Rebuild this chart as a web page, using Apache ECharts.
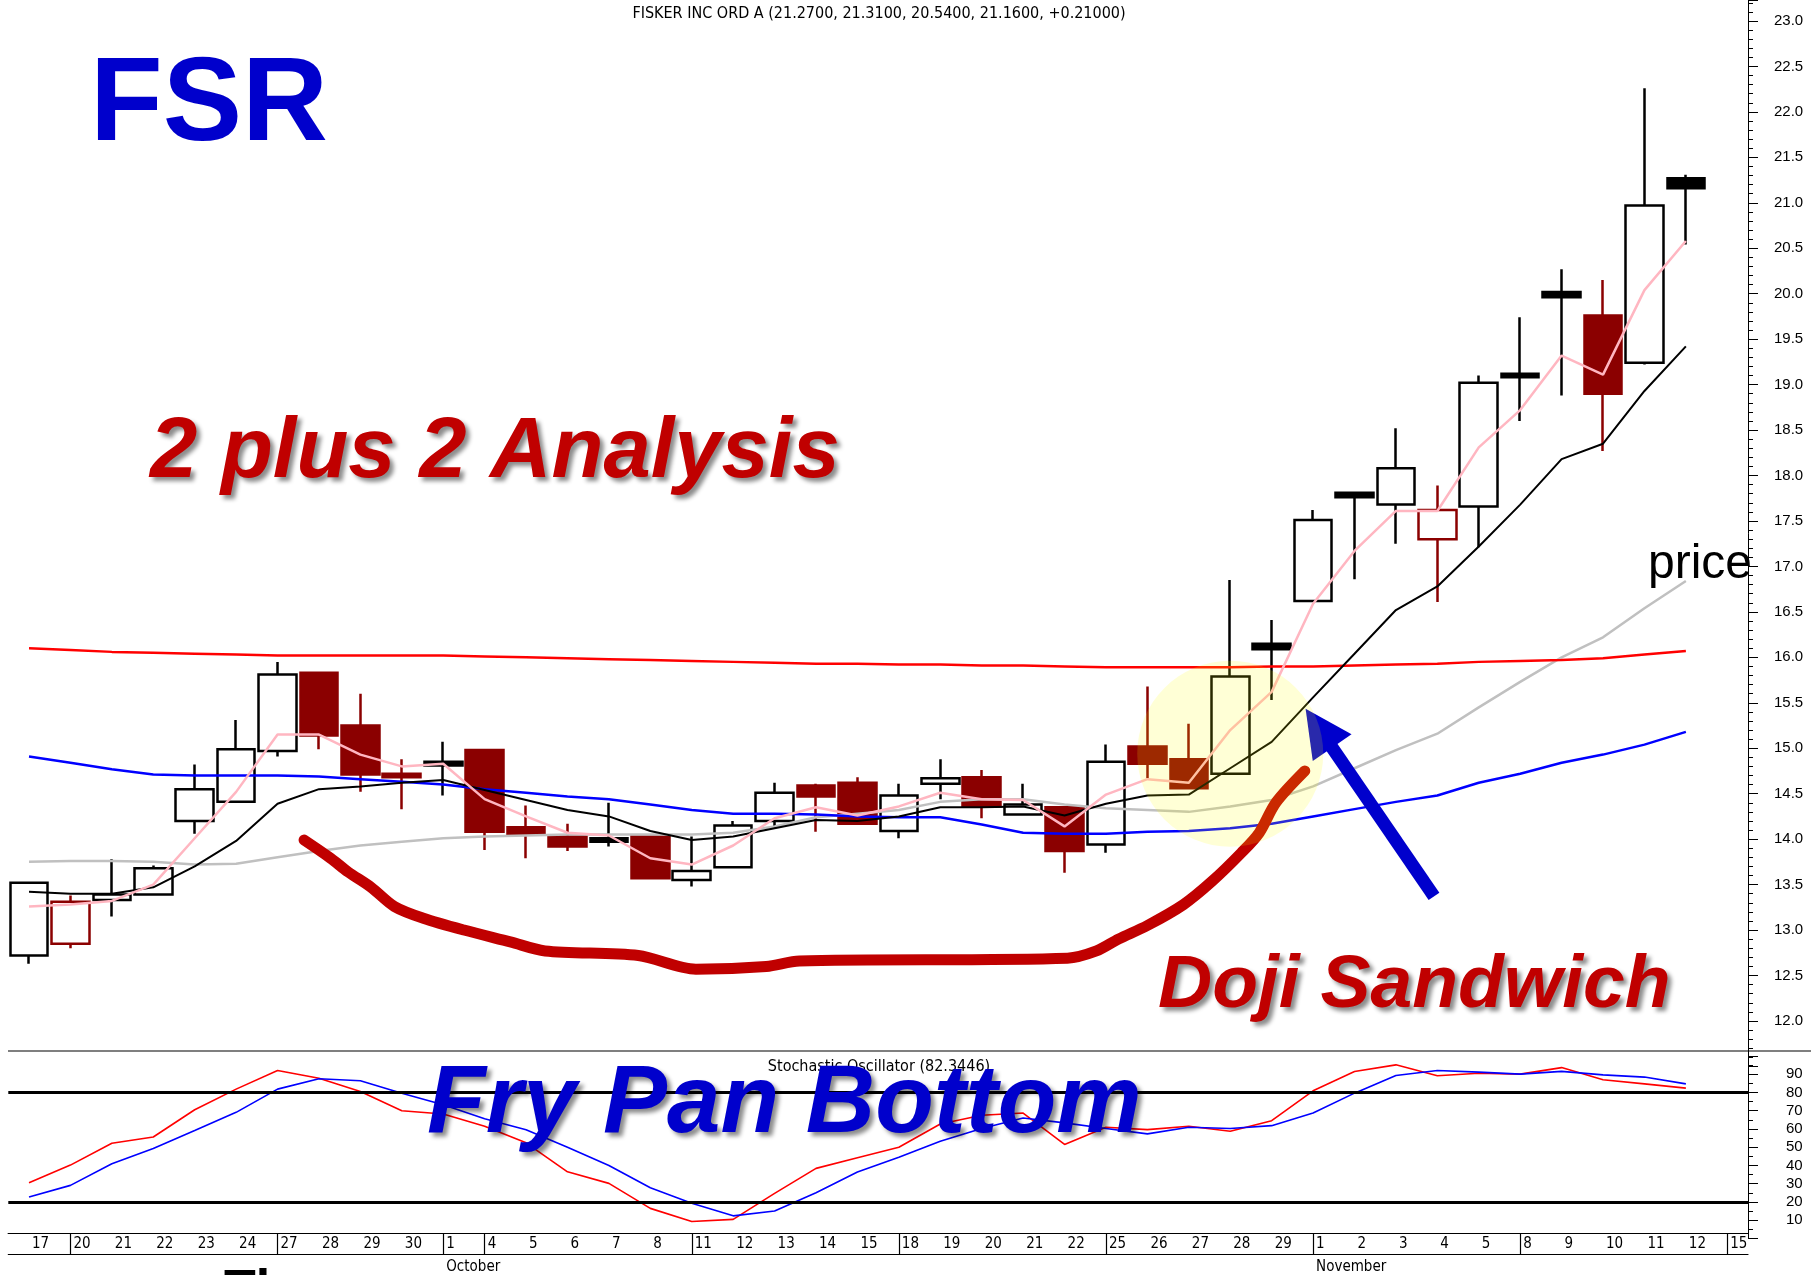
<!DOCTYPE html>
<html>
<head>
<meta charset="utf-8">
<title>FSR - 2 plus 2 Analysis</title>
<script src="https://cdn.jsdelivr.net/npm/echarts@6/dist/echarts.min.js"></script>
<style>
  html, body { margin: 0; padding: 0; background: #ffffff; }
  #main { width: 1819px; height: 1275px; }
</style>
</head>
<body>
<div id="main"></div>
<script>
// trading days shown on the x axis (last one is empty)
const dates = [
  '2021-09-17','2021-09-20','2021-09-21','2021-09-22','2021-09-23','2021-09-24','2021-09-27','2021-09-28','2021-09-29','2021-09-30',
  '2021-10-01','2021-10-04','2021-10-05','2021-10-06','2021-10-07','2021-10-08','2021-10-11','2021-10-12','2021-10-13','2021-10-14',
  '2021-10-15','2021-10-18','2021-10-19','2021-10-20','2021-10-21','2021-10-22','2021-10-25','2021-10-26','2021-10-27','2021-10-28',
  '2021-10-29','2021-11-01','2021-11-02','2021-11-03','2021-11-04','2021-11-05','2021-11-08','2021-11-09','2021-11-10','2021-11-11',
  '2021-11-12','2021-11-15'
];
const monthNames = { '10': 'October', '11': 'November' };

// daily prices
const opens  = [12.72,12.85,13.33,13.39,14.20,14.41,14.97,15.83,15.25,14.72,14.85,14.98,14.13,14.03,14.01,14.03,13.55,13.69,14.20,14.59,14.62,14.09,14.61,14.68,14.27,14.35,13.94,15.02,14.88,14.72,16.15,16.62,17.81,17.68,17.30,17.66,19.12,20.02,19.76,19.24,21.27];
const highs  = [13.53,13.38,13.78,13.71,14.82,15.31,15.95,15.83,15.60,14.88,15.07,14.98,14.37,14.17,14.40,14.03,14.03,14.20,14.62,14.61,14.68,14.61,14.88,14.76,14.61,14.35,15.04,15.68,15.27,16.85,16.41,17.62,17.82,18.52,17.89,19.10,19.74,20.27,20.15,22.26,21.31];
const lows   = [12.63,12.80,13.15,13.39,14.06,14.41,14.91,14.99,14.52,14.33,14.48,13.88,13.79,13.87,13.92,13.56,13.48,13.69,14.12,14.08,14.16,14.01,14.44,14.23,14.27,13.63,13.85,14.67,14.56,14.72,15.53,16.62,16.86,17.25,16.61,17.21,18.60,18.88,18.27,19.22,20.54];
const closes = [13.52,13.31,13.39,13.68,14.55,14.99,15.81,15.14,14.71,14.68,14.81,14.08,14.05,13.92,13.97,13.57,13.65,14.15,14.51,14.47,14.17,14.48,14.67,14.36,14.38,13.87,14.85,14.83,14.56,15.79,16.09,17.51,17.76,18.08,17.62,19.02,19.08,19.96,18.90,20.97,21.16];

// overlays on the price panel
const maFast = [13.26,13.28,13.32,13.50,14.01,14.52,15.15,15.15,14.93,14.80,14.83,14.44,14.25,14.07,14.04,13.79,13.72,13.93,14.23,14.35,14.26,14.36,14.51,14.44,14.43,14.14,14.49,14.66,14.62,15.20,15.62,16.59,17.17,17.61,17.61,18.31,18.72,19.32,19.11,20.04,20.58];
const maMid  = [13.42,13.40,13.40,13.47,13.70,13.98,14.39,14.55,14.58,14.62,14.65,14.54,14.43,14.32,14.25,14.09,13.99,14.03,14.12,14.21,14.20,14.25,14.35,14.35,14.36,14.26,14.39,14.48,14.49,14.78,15.07,15.56,16.04,16.52,16.78,17.22,17.68,18.18,18.35,18.93,19.42];
const maSlow = [13.75,13.76,13.76,13.75,13.72,13.73,13.80,13.87,13.93,13.97,14.01,14.03,14.04,14.05,14.05,14.05,14.05,14.07,14.14,14.24,14.28,14.32,14.41,14.44,14.44,14.38,14.34,14.32,14.30,14.36,14.43,14.58,14.78,14.98,15.16,15.45,15.73,16.00,16.22,16.54,16.84];
const bandLower = [14.91,14.84,14.77,14.71,14.70,14.70,14.70,14.69,14.66,14.63,14.60,14.55,14.51,14.47,14.44,14.38,14.32,14.28,14.28,14.27,14.25,14.24,14.24,14.16,14.07,14.06,14.06,14.08,14.09,14.12,14.17,14.25,14.33,14.41,14.48,14.62,14.72,14.84,14.93,15.04,15.18];
const bandUpper = [16.10,16.08,16.06,16.05,16.04,16.03,16.02,16.02,16.02,16.02,16.02,16.01,16.00,15.99,15.98,15.97,15.96,15.95,15.94,15.93,15.93,15.92,15.92,15.91,15.91,15.90,15.89,15.89,15.89,15.89,15.90,15.90,15.91,15.92,15.93,15.95,15.96,15.97,15.99,16.03,16.07];

// stochastic oscillator
const stochK = [30.5,40.2,52.2,55.6,70.5,81.8,92.0,87.8,80.5,70.0,68.2,61.5,52.4,36.5,30.2,16.5,9.3,10.5,24.7,38.4,44.2,50.0,62.7,67.5,68.7,51.5,60.9,59.6,61.5,58.7,64.5,80.9,91.5,95.1,89.1,90.5,90.0,93.6,86.9,84.7,82.34];
const stochD = [22.7,29.1,40.9,49.3,59.1,69.1,81.8,87.5,86.4,79.6,73.3,65.6,59.6,50.0,40.0,27.8,19.3,12.4,15.1,25.1,36.4,44.5,53.3,60.2,66.0,63.3,60.2,57.3,60.9,60.2,61.8,68.7,79.6,89.3,92.0,91.1,90.0,91.5,89.6,88.4,84.7];
const stochLevels = [80, 20];

// hand drawn annotations, in (day index, price)
const fryPanPath = [[6.64,13.99],[7.28,13.79],[7.70,13.64],[8.26,13.47],[8.82,13.26],[9.52,13.13],[10.5,13.0],[11.62,12.87],[12.46,12.77],[14.71,12.72],[16.1,12.57],[17.8,12.6],[18.6,12.66],[25.07,12.69],[25.77,12.77],[26.3,12.9],[27.0,13.05],[27.87,13.28],[28.57,13.54],[29.27,13.85],[29.7,14.07],[30.1,14.4],[30.8,14.75]];
const arrowPath = [[33.92,13.37],[31.14,15.22]];
const highlight = [[29.0,14.94]];

// candle colours: hollow when close > open, red when close < previous close
function candleItem(i) {
  const o = opens[i], c = closes[i];
  const prev = i > 0 ? closes[i - 1] : o;
  const col = c < prev ? '#8b0000' : '#000000';
  const fill = c < o ? col : '#ffffff';
  return {
    value: [o, c, lows[i], highs[i]],
    itemStyle: { color: fill, color0: fill, borderColor: col, borderColor0: col }
  };
}

const isMonday = d => new Date(d + 'T00:00:00').getDay() === 1;
const isMonthStart = (i) => i > 0 && dates[i].slice(5, 7) !== dates[i - 1].slice(5, 7);

const narrow = "'Liberation Sans Narrow', 'Arial Narrow', 'DejaVu Sans Condensed', sans-serif";
const sans = "'Liberation Sans', Arial, sans-serif";

let myChart = echarts.init(document.getElementById('main'));

function bigText(text, x, y, size, color, italic, shadow) {
  return {
    type: 'text', x: x, y: y, z: 200,
    style: {
      text: text, fill: color,
      fontSize: size, fontWeight: 'bold', fontStyle: italic ? 'italic' : 'normal',
      fontFamily: sans, align: 'left', verticalAlign: 'middle',
      textShadowColor: shadow ? 'rgba(0,0,0,0.45)' : 'transparent',
      textShadowBlur: shadow ? 4 : 0,
      textShadowOffsetX: shadow ? 4 : 0,
      textShadowOffsetY: shadow ? 4 : 0
    }
  };
}

const lineStyleOf = (color, width) => ({
  type: 'line', symbol: 'none', silent: true, xAxisIndex: 0, yAxisIndex: 0, z: 3,
  lineStyle: { color: color, width: width }
});

myChart.setOption({
  animation: false,
  backgroundColor: '#ffffff',
  grid: [
    { left: 8.3, right: 71, top: 0, height: 1066.4 },
    { left: 8.3, right: 71, top: 1055.9, height: 182.6 },
    { left: 8.3, right: 71, top: 1200, height: 33.5 }
  ],
  xAxis: [
    { gridIndex: 0, type: 'category', data: dates, show: false },
    { gridIndex: 0, type: 'value', min: -0.5, max: 41.5, show: false },
    { gridIndex: 1, type: 'category', data: dates, show: false },
    {
      // day row
      gridIndex: 2, type: 'category', data: dates, position: 'bottom',
      axisLine: { lineStyle: { color: '#000', width: 1.2 } },
      axisTick: { alignWithLabel: true, interval: 0, length: 6, lineStyle: { color: '#000' } },
      axisLabel: {
        interval: 0, align: 'left', padding: [0, 0, 0, 3], margin: 3,
        fontSize: 15, fontFamily: narrow, color: '#000',
        formatter: v => String(+v.slice(8))
      },
      splitLine: { show: false }
    },
    {
      // week dividers
      gridIndex: 2, type: 'category', data: dates, position: 'bottom',
      axisLine: { show: true, lineStyle: { color: '#000', width: 1.2 } },
      axisTick: {
        show: true, alignWithLabel: true, length: 21, lineStyle: { color: '#000', width: 1.2 },
        interval: (i, v) => isMonday(v) || isMonthStart(i)
      },
      axisLabel: { show: false }
    },
    {
      // month row
      gridIndex: 2, type: 'category', data: dates, position: 'bottom', offset: 21,
      axisLine: { lineStyle: { color: '#000', width: 1.2 } },
      axisTick: {
        alignWithLabel: true, length: 22, lineStyle: { color: '#000' },
        interval: (i) => isMonthStart(i)
      },
      axisLabel: {
        interval: (i) => isMonthStart(i), align: 'left', padding: [0, 0, 0, 3], margin: 5,
        fontSize: 15, fontFamily: narrow, color: '#000',
        formatter: v => monthNames[v.slice(5, 7)]
      }
    }
  ],
  yAxis: [
    {
      gridIndex: 0, type: 'value', position: 'right', min: 11.5, max: 23.231, interval: 0.5,
      axisLine: { show: true, onZero: false, lineStyle: { color: '#000' } },
      axisTick: { show: true, length: 10, lineStyle: { color: '#000' } },
      minorTick: { show: true, splitNumber: 5, length: 5, lineStyle: { color: '#000' } },
      splitLine: { show: false },
      axisLabel: {
        margin: 26, fontSize: 15, fontFamily: sans, color: '#000',
        formatter: v => (v < 12 || v > 23.01) ? '' : v.toFixed(1)
      }
    },
    {
      gridIndex: 1, type: 'value', position: 'right', min: 0, max: 100, interval: 10,
      axisLine: { show: true, onZero: false, lineStyle: { color: '#000' } },
      axisTick: { show: true, length: 10, lineStyle: { color: '#000' } },
      minorTick: { show: true, splitNumber: 2, length: 5, lineStyle: { color: '#000' } },
      splitLine: { show: false },
      axisLabel: {
        margin: 38, fontSize: 15, fontFamily: sans, color: '#000',
        formatter: v => (v < 10 || v > 90) ? '' : String(v)
      }
    },
    { gridIndex: 2, type: 'value', show: false }
  ],
  series: [
    {
      name: 'FSR', type: 'candlestick', xAxisIndex: 0, yAxisIndex: 0, z: 2,
      barWidth: '92%',
      itemStyle: { borderWidth: 2.5 },
      data: opens.map((o, i) => candleItem(i))
    },
    Object.assign(lineStyleOf('#c0c0c0', 2.5), { name: 'slow', data: maSlow }),
    Object.assign(lineStyleOf('#0000ff', 2.5), { name: 'lower', data: bandLower }),
    Object.assign(lineStyleOf('#ff0000', 2.5), { name: 'upper', data: bandUpper }),
    Object.assign(lineStyleOf('#000000', 2), { name: 'mid', data: maMid }),
    Object.assign(lineStyleOf('#ffb6c1', 2.5), { name: 'fast', data: maFast }),
    {
      name: 'fry pan', type: 'line', xAxisIndex: 1, yAxisIndex: 0, z: 5,
      symbol: 'none', smooth: 0.3, silent: true,
      lineStyle: { color: '#c00000', width: 11, cap: 'round', join: 'round' },
      data: fryPanPath
    },
    {
      name: 'arrow', type: 'lines', coordinateSystem: 'cartesian2d', xAxisIndex: 1, yAxisIndex: 0, z: 6,
      symbol: ['none', 'triangle'], symbolSize: 47, silent: true,
      lineStyle: { color: '#0000cc', width: 13, opacity: 1, curveness: 0 },
      data: [{ coords: arrowPath }]
    },
    {
      name: 'highlight', type: 'scatter', xAxisIndex: 1, yAxisIndex: 0, z: 8,
      symbolSize: 186, silent: true,
      itemStyle: { color: 'rgba(255,255,0,0.2)' },
      data: highlight
    },
    {
      name: '%K', type: 'line', xAxisIndex: 2, yAxisIndex: 1, symbol: 'none', silent: true,
      lineStyle: { color: '#ff0000', width: 1.6 },
      data: stochK,
      markLine: {
        silent: true, symbol: ['none', 'none'], label: { show: false },
        lineStyle: { color: '#000', width: 3, type: 'solid' },
        data: stochLevels.map(v => ({ yAxis: v }))
      }
    },
    {
      name: '%D', type: 'line', xAxisIndex: 2, yAxisIndex: 1, symbol: 'none', silent: true,
      lineStyle: { color: '#0000ff', width: 1.6 },
      data: stochD
    }
  ],
  graphic: [
    // panel divider
    { type: 'line', z: 50, shape: { x1: 8, y1: 1051, x2: 1811, y2: 1051 }, style: { stroke: '#000', lineWidth: 1.2 } },
    {
      type: 'text', x: 879, y: 14, z: 200,
      style: { text: 'FISKER INC ORD A (21.2700, 21.3100, 20.5400, 21.1600, +0.21000)', fill: '#000',
        fontSize: 16, fontFamily: narrow, align: 'center', verticalAlign: 'middle' }
    },
    {
      type: 'text', x: 879, y: 1067, z: 200,
      style: { text: 'Stochastic Oscillator (82.3446)', fill: '#000',
        fontSize: 16, fontFamily: narrow, align: 'center', verticalAlign: 'middle' }
    },
    bigText('FSR', 90, 107, 119, '#0000cc', false, false),
    bigText('2 plus 2 Analysis', 150, 454, 85, '#c00000', true, true),
    bigText('Doji Sandwich', 1158, 986, 75, '#c00000', true, true),
    bigText('Fry Pan Bottom', 427, 1106, 96, '#0000cc', true, true),
    {
      type: 'text', x: 1648, y: 565, z: 200,
      style: { text: 'price', fill: '#000', fontSize: 48, fontFamily: sans, align: 'left', verticalAlign: 'middle' }
    },
    {
      type: 'text', x: 224, y: 1292, z: 200,
      style: { text: 'The', fill: '#000', fontSize: 52, fontWeight: 'bold', fontFamily: sans, align: 'left', verticalAlign: 'middle' }
    }
  ]
});
window.onresize = function () {
  myChart.resize();
};
</script>
</body>
</html>
